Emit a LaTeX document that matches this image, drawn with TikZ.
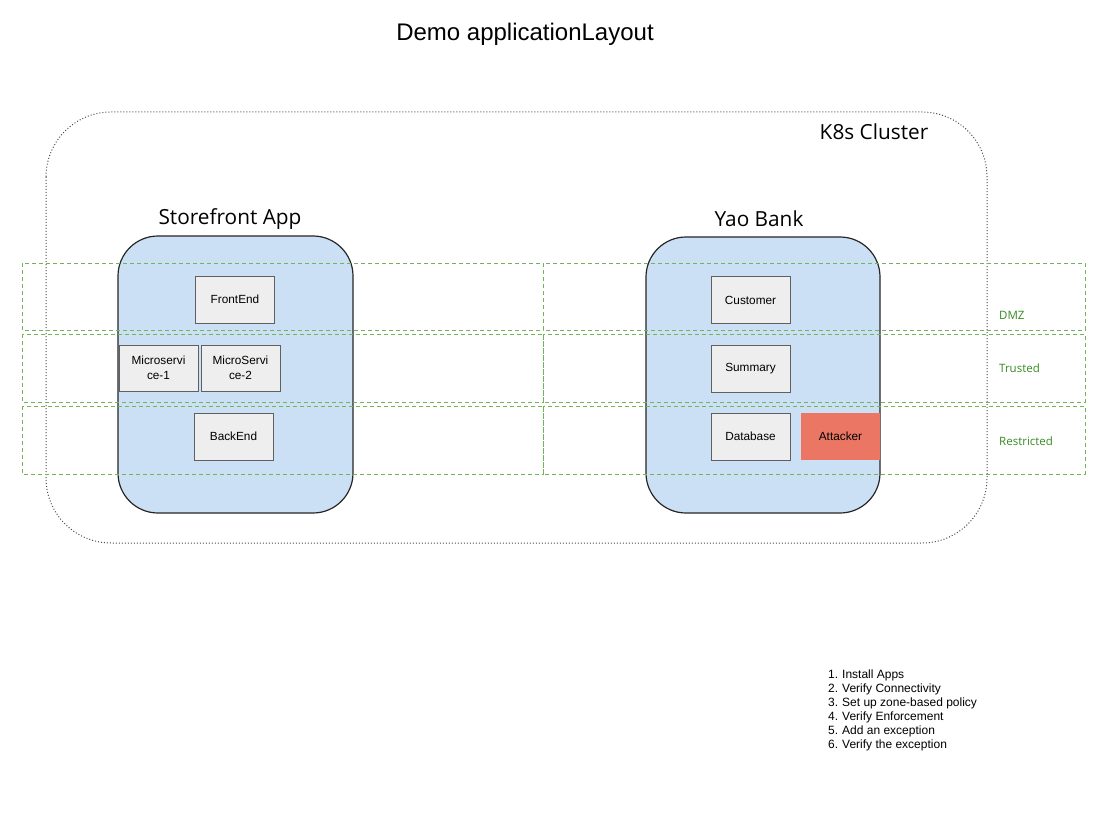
\documentclass[tikz,border=0pt]{standalone}
\usepackage{fontspec}
\setmainfont{Liberation Sans}
\newfontfamily\opensans{Open Sans}
\usepackage{tikz}
\usetikzlibrary{positioning}
\definecolor{podblue}{RGB}{204,224,245}
\definecolor{boxgray}{RGB}{238,238,238}
\definecolor{zonegreen}{RGB}{115,180,90}
\definecolor{zonetext}{RGB}{55,140,35}
\definecolor{attackred}{RGB}{236,118,100}
\tikzset{
    x=1pt, y=-1pt, % pixel like coordinates, origin top left
    cluster/.style={draw=gray!60!black, line width=1pt, dash pattern=on 1pt off 2pt, rounded corners=65pt}, % the k8s cluster outline
    pod/.style={draw=black!85, fill=podblue, line width=1.2pt, rounded corners=40pt, inner sep=0pt}, % one application
    zone/.style={draw=zonegreen, line width=1pt, dash pattern=on 4pt off 3pt}, % a network zone
    svc/.style={draw=gray!75!black, fill=boxgray, line width=0.9pt, minimum width=79pt, minimum height=47pt, inner sep=0pt, align=center, font=\fontsize{11.8}{14.5}\selectfont}, % one service
    apptitle/.style={font=\opensans\fontsize{20.8}{24}\selectfont}, % name of an app
    zonelabel/.style={text=zonetext, anchor=west, inner sep=0pt, font=\opensans\fontsize{11.5}{14}\selectfont}, % name of a zone
    }

\begin{document}
\begin{tikzpicture}
    \useasboundingbox[fill=white] (0,0) rectangle (1118,834);

    \node[font=\fontsize{24}{28}\selectfont] (title) at (525,34) {Demo applicationLayout};

    % cluster
    \draw[cluster] (46,112) rectangle (987,543);
    \node[apptitle] (k8s) at (874,132) {K8s Cluster};

    % apps
    \node[pod, minimum width=235pt, minimum height=277pt] (sf) at (235.5,374.5) {};
    \node[pod, minimum width=234pt, minimum height=276pt] (yao) at (763,375) {};
    \node[apptitle] (sft) at (230,219) {Storefront App};
    \node[apptitle] (yaot) at (759,219) {Yao Bank};

    % zones
    \draw[zone] (22,263) rectangle (543,330);
    \draw[zone] (543,263) rectangle (1085,330);
    \draw[zone] (22,334) rectangle (543,402);
    \draw[zone] (543,334) rectangle (1085,402);
    \draw[zone] (22,406) rectangle (543,474);
    \draw[zone] (543,406) rectangle (1085,474);
    \node[zonelabel] (dmz) at (999,315) {DMZ};
    \node[zonelabel] (trusted) at (999,368) {Trusted};
    \node[zonelabel] (restricted) at (999,441) {Restricted};

    % services
    \node[svc] (fe) at (235,299.5) {FrontEnd};
    \node[svc, minimum height=46pt] (ms1) at (158.5,368) {Microservi\\ce-1};
    \node[svc, minimum height=46pt] (ms2) at (240.5,368) {MicroServi\\ce-2};
    \node[svc] (be) at (233.5,436.5) {BackEnd};
    \node[svc] (cust) at (750.5,300) {Customer};
    \node[svc] (summ) at (750.5,368.5) {Summary};
    \node[svc] (db) at (750.5,436.5) {Database};
    \node[svc, draw=none, fill=attackred] (att) at (840.5,436.5) {Attacker};

    % steps
    \node[anchor=north west, inner sep=0pt, align=left, font=\fontsize{12}{14}\selectfont] (steps) at (828,670) {%
        \makebox[14pt][l]{1.}Install Apps\\
        \makebox[14pt][l]{2.}Verify Connectivity\\
        \makebox[14pt][l]{3.}Set up zone-based policy\\
        \makebox[14pt][l]{4.}Verify Enforcement\\
        \makebox[14pt][l]{5.}Add an exception\\
        \makebox[14pt][l]{6.}Verify the exception};
\end{tikzpicture}
\end{document}
